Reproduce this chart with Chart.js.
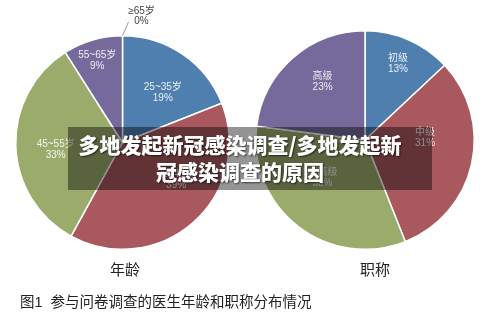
<!DOCTYPE html>
<html>
<head>
<meta charset="utf-8">
<script src="https://cdn.jsdelivr.net/npm/chart.js@4/dist/chart.umd.min.js"></script>
<style>
  body { margin: 0; background: #fff; width: 500px; height: 317px; overflow: hidden; position: relative;
         font-family: "Liberation Sans", "Noto Sans CJK SC", sans-serif; }
  .caja { position: absolute; top: 0; width: 250px; height: 317px; }
  .titulo { position: absolute; top: 258px; font-size: 15px; color: #222; width: 100px; text-align: center; }
  #pie { position: absolute; left: 20px; top: 290px; font-size: 14.5px; color: #222; white-space: pre; }
  #banda { position: absolute; left: 68px; top: 127px; width: 364px; height: 63px;
           background: rgba(0,0,0,0.42); color: #fff; text-align: center;
           font-family: "Noto Sans CJK SC", sans-serif; font-weight: 900; font-size: 21px; line-height: 27px;
           padding-top: 4px; padding-right: 20px; box-sizing: border-box; text-shadow: 1px 1px 2px rgba(0,0,0,0.6); }
</style>
</head>
<body>
<div class="caja" style="left:0"><canvas id="edad" width="250" height="317"></canvas></div>
<div class="caja" style="left:250px"><canvas id="cargo" width="250" height="317"></canvas></div>
<div class="titulo" style="left:75px">年龄</div>
<div class="titulo" style="left:325px">职称</div>
<div id="pie">图1  参与问卷调查的医生年龄和职称分布情况</div>
<div id="banda">多地发起新冠感染调查/多地发起新<br>冠感染调查的原因</div>
<script>
// datos
const edadEtiquetas = ['25~35岁', '35~45岁', '45~55岁', '55~65岁', '≥65岁'];
const edadValores = [19, 39, 33, 9, 0];
const cargoEtiquetas = ['初级', '中级', '副高级', '高级'];
const cargoValores = [13, 31, 33, 23];

const azul = '#4f7fae', rojo = '#a9585d', verde = '#9aab6c', morado = '#76699b';

// etiquetas dentro de cada porción: r = fracción del radio, t = posición angular dentro de la porción
const etiquetasPlugin = {
  id: 'etiquetas',
  afterDatasetsDraw(chart, args, opts) {
    const ctx = chart.ctx;
    const meta = chart.getDatasetMeta(0);
    const valores = chart.data.datasets[0].data;
    const nombres = chart.data.labels;
    ctx.save();
    ctx.font = '10px "Liberation Sans", "Noto Sans CJK SC", sans-serif';
    ctx.textAlign = 'center';
    ctx.textBaseline = 'middle';
    meta.data.forEach((arco, i) => {
      const p = arco.getProps(['x', 'y', 'startAngle', 'endAngle', 'outerRadius'], true);
      const texto = valores[i] + '%';
      if (valores[i] === 0) {
        // porción vacía: etiqueta afuera con línea guía
        const a = p.startAngle;
        const x0 = p.x + Math.cos(a) * p.outerRadius;
        const y0 = p.y + Math.sin(a) * p.outerRadius;
        ctx.strokeStyle = '#999';
        ctx.lineWidth = 1;
        ctx.beginPath();
        ctx.moveTo(x0, y0);
        ctx.lineTo(x0 + 6, y0 - 14);
        ctx.stroke();
        ctx.fillStyle = '#444';
        ctx.fillText(nombres[i], x0 + 19, y0 - 25);
        ctx.fillText(texto, x0 + 19, y0 - 14.5);
        return;
      }
      const pos = opts.pos[i];
      const a = p.startAngle + (p.endAngle - p.startAngle) * pos.t;
      const x = p.x + Math.cos(a) * p.outerRadius * pos.r;
      const y = p.y + Math.sin(a) * p.outerRadius * pos.r;
      ctx.fillStyle = 'rgba(255,255,255,0.88)';
      ctx.fillText(nombres[i], x, y - 5.5);
      ctx.fillText(texto, x, y + 5.5);
    });
    ctx.restore();
  }
};

function crearPastel(id, etiquetas, valores, colores, padding, pos) {
  return new Chart(document.getElementById(id), {
    type: 'pie',
    data: {
      labels: etiquetas,
      datasets: [{
        data: valores,
        backgroundColor: colores,
        borderColor: '#fff',
        borderWidth: 1.5
      }]
    },
    options: {
      responsive: false,
      animation: false,
      devicePixelRatio: 1,
      layout: { padding: padding },
      plugins: {
        legend: { display: false },
        tooltip: { enabled: false },
        etiquetas: { pos: pos }
      }
    },
    plugins: [etiquetasPlugin]
  });
}

crearPastel('edad', edadEtiquetas, edadValores, [azul, rojo, verde, morado, '#cccccc'],
  { left: 15, right: 20, top: 35, bottom: 67 },
  [{ r: 0.60, t: 0.57 }, { r: 0.61, t: 0.40 }, { r: 0.63, t: 0.46 }, { r: 0.80, t: 0.47 }, null]);

crearPastel('cargo', cargoEtiquetas, cargoValores, [azul, rojo, verde, morado],
  { left: 5, right: 25, top: 30, bottom: 67 },
  [{ r: 0.76, t: 0.5 }, { r: 0.55, t: 0.37 }, { r: 0.52, t: 0.59 }, { r: 0.66, t: 0.565 }]);
</script>
</body>
</html>
